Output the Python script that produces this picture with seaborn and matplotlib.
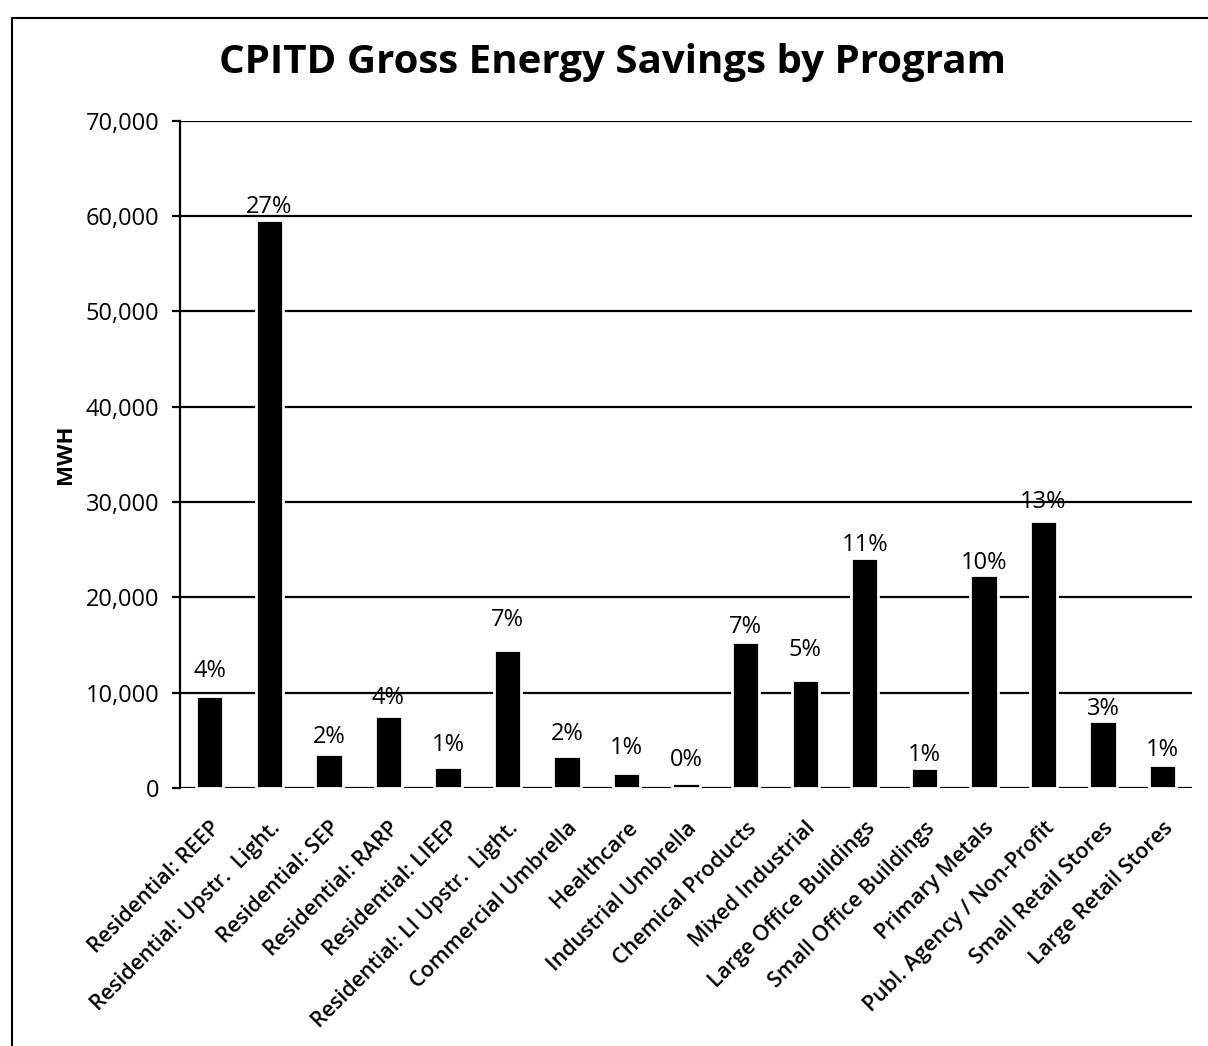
import matplotlib
matplotlib.use("Agg")
import matplotlib.pyplot as plt
from matplotlib.lines import Line2D
from matplotlib.ticker import FuncFormatter
import seaborn as sns

# data
programs = ['Residential: REEP', 'Residential: Upstr.  Light.', 'Residential: SEP',
            'Residential: RARP', 'Residential: LIEEP', 'Residential: LI Upstr.  Light.',
            'Commercial Umbrella', 'Healthcare', 'Industrial Umbrella',
            'Chemical Products', 'Mixed Industrial', 'Large Office Buildings',
            'Small Office Buildings', 'Primary Metals', 'Publ. Agency / Non-Profit',
            'Small Retail Stores', 'Large Retail Stores']
mwh = [9700, 59600, 3600, 7500, 2250, 14500, 3330, 1600, 530,
       15300, 11300, 24100, 2050, 22400, 28000, 7050, 2400]
shares = ['4%', '27%', '2%', '4%', '1%', '7%', '2%', '1%', '0%',
          '7%', '5%', '11%', '1%', '10%', '13%', '3%', '1%']

# label gaps above each bar (points), the labels sit unevenly in the original
label_gap = [9, 1, 3, 5, 7, 13, 7, 9, 8, 2, 13, 1, 1, 0, 5, 0, 2]

sns.set_style('white')
plt.rcParams['font.family'] = ['Open Sans', 'DejaVu Sans']
plt.rcParams['text.color'] = 'black'
plt.rcParams['axes.labelcolor'] = 'black'
plt.rcParams['xtick.color'] = 'black'
plt.rcParams['ytick.color'] = 'black'

fig = plt.figure(figsize=(12.08, 10.46), dpi=100)
ax = fig.add_axes([0.149, 0.2467, 0.838, 0.6377])

sns.barplot(x=programs, y=mwh, color='black', saturation=1, width=0.46,
            edgecolor='white', linewidth=2, ax=ax, zorder=3)

for bar, txt, gap in zip(ax.containers[0], shares, label_gap):
    ax.annotate(txt, (bar.get_x() + bar.get_width() / 2, bar.get_height()),
                xytext=(0, gap), textcoords='offset points',
                ha='center', va='bottom', fontsize=17, zorder=4)

ax.set_ylim(0, 70000)
ax.set_xlim(-0.5, len(programs) - 0.5)
ax.set_yticks(range(0, 70001, 10000))
ax.yaxis.set_major_formatter(FuncFormatter(lambda v, p: f'{int(v):,}'))
ax.grid(axis='y', color='black', linewidth=1.6)
ax.set_axisbelow(True)

for s in ['top', 'right', 'bottom']:
    ax.spines[s].set_visible(False)
ax.spines['left'].set_color('black')
ax.spines['left'].set_linewidth(1.6)

ax.tick_params(axis='y', which='major', left=True, length=6, width=1.6,
               color='black', pad=9, labelsize=17)
ax.tick_params(axis='x', bottom=False, pad=18)

ax.set_xlabel('')
ax.set_ylabel('MWH', fontsize=16, fontweight='bold', labelpad=7)

# label ends (top-right corner) sit right under each bar
for lab in ax.get_xticklabels():
    lab.set_rotation(45)
    lab.set_ha('right')
    lab.set_va('top')
    lab.set_rotation_mode('anchor')
    lab.set_fontsize(15.5)
    lab.set_fontweight('semibold')

fig.text(0.507, 1 - 62 / 1046, 'CPITD Gross Energy Savings by Program',
         ha='center', va='center', fontsize=29, fontweight='bold')

# outer chart frame (left and top edges visible in the scan)
fig.add_artist(Line2D([12 / 1208, 12 / 1208], [0, 1 - 18 / 1046], color='black', lw=1.5))
fig.add_artist(Line2D([12 / 1208, 1], [1 - 18 / 1046, 1 - 18 / 1046], color='black', lw=1.5))

fig.savefig('out.png', dpi=100)
